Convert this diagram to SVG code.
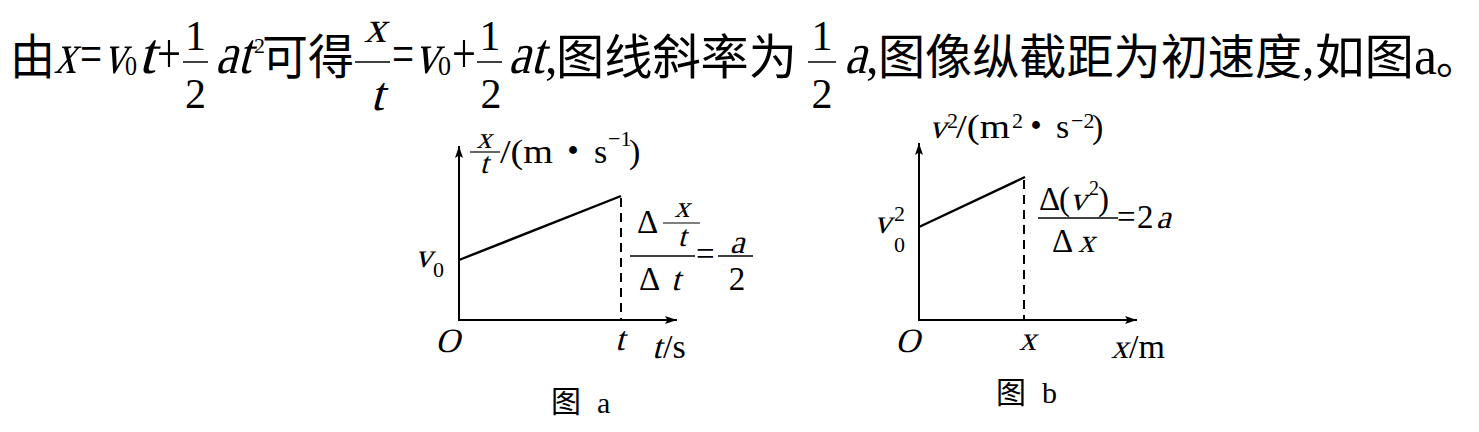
<svg xmlns="http://www.w3.org/2000/svg" width="1479" height="432" viewBox="0 0 1479 432">
<style>
.cjk{font-family:"Noto Sans CJK SC","Noto Sans",sans-serif;fill:#000}
.m{font-family:"Liberation Serif","Times New Roman",serif;fill:#000}
.ax{stroke:#000;stroke-width:2;fill:none}
.pl{stroke:#000;stroke-width:2.4;fill:none}
.ds{stroke:#000;stroke-width:2;fill:none;stroke-dasharray:9 6}
.fb{stroke:#000;stroke-width:1.5}
.fs{stroke:#000;stroke-width:1.2}
</style>
<defs>
<marker id="arr" markerUnits="userSpaceOnUse" markerWidth="12" markerHeight="8" viewBox="0 0 12 8" refX="12" refY="4" orient="auto">
<path d="M0,0 L12,4 L0,8 L2.5,4 Z" fill="#000"/>
</marker>
</defs>
<rect width="1479" height="432" fill="#fff"/>
<g id="title">
<text class="cjk" x="10" y="74" font-size="48" textLength="45" lengthAdjust="spacingAndGlyphs">由</text>
<text class="m" transform="translate(54,73) skewX(-15)" font-size="58" textLength="22" lengthAdjust="spacingAndGlyphs">x</text>
<text class="m" x="80" y="73" font-size="58" textLength="22" lengthAdjust="spacingAndGlyphs">=</text>
<text class="m" transform="translate(103,73) skewX(-15)" font-size="58" textLength="22" lengthAdjust="spacingAndGlyphs">v</text>
<text class="m" x="125" y="75" font-size="28" textLength="12" lengthAdjust="spacingAndGlyphs">0</text>
<text class="m" transform="translate(138,73) skewX(-15)" font-size="58" textLength="17" lengthAdjust="spacingAndGlyphs">t</text>
<text class="m" x="157" y="73" font-size="58" textLength="24" lengthAdjust="spacingAndGlyphs">+</text>
<line class="fb" x1="183" y1="62" x2="208" y2="62"/>
<text class="m" x="195.5" y="50" font-size="42" text-anchor="middle">1</text>
<text class="m" x="195.5" y="108" font-size="42" text-anchor="middle">2</text>
<text class="m" transform="translate(215,73) skewX(-15)" font-size="58" textLength="36" lengthAdjust="spacingAndGlyphs">at</text>
<text class="m" x="254" y="53" font-size="22">2</text>
<text class="cjk" x="262" y="74" font-size="48" textLength="92" lengthAdjust="spacingAndGlyphs">可得</text>
<line class="fb" x1="355" y1="62" x2="390" y2="62"/>
<text class="m" transform="translate(375,42) skewX(-15)" font-size="44" text-anchor="middle">x</text>
<text class="m" transform="translate(377,110) skewX(-15)" font-size="48" text-anchor="middle">t</text>
<text class="m" x="392" y="73" font-size="58" textLength="22" lengthAdjust="spacingAndGlyphs">=</text>
<text class="m" transform="translate(414,73) skewX(-15)" font-size="58" textLength="24" lengthAdjust="spacingAndGlyphs">v</text>
<text class="m" x="438" y="75" font-size="28" textLength="13" lengthAdjust="spacingAndGlyphs">0</text>
<text class="m" x="452" y="73" font-size="58" textLength="24" lengthAdjust="spacingAndGlyphs">+</text>
<line class="fb" x1="477" y1="62" x2="502" y2="62"/>
<text class="m" x="490" y="50" font-size="42" text-anchor="middle">1</text>
<text class="m" x="491" y="108" font-size="42" text-anchor="middle">2</text>
<text class="m" transform="translate(508,73) skewX(-15)" font-size="58" textLength="36" lengthAdjust="spacingAndGlyphs">at</text>
<text class="m" x="545" y="73" font-size="50">,</text>
<text class="cjk" x="556" y="74" font-size="48" textLength="241" lengthAdjust="spacingAndGlyphs">图线斜率为</text>
<line class="fb" x1="808" y1="62" x2="836" y2="62"/>
<text class="m" x="822" y="50" font-size="42" text-anchor="middle">1</text>
<text class="m" x="822" y="108" font-size="42" text-anchor="middle">2</text>
<text class="m" transform="translate(844,73) skewX(-15)" font-size="58" textLength="22" lengthAdjust="spacingAndGlyphs">a</text>
<text class="m" x="866" y="73" font-size="50">,</text>
<text class="cjk" x="878" y="74" font-size="48" textLength="424" lengthAdjust="spacingAndGlyphs">图像纵截距为初速度</text>
<text class="m" x="1302" y="73" font-size="50">,</text>
<text class="cjk" x="1315" y="74" font-size="48" textLength="99" lengthAdjust="spacingAndGlyphs">如图</text>
<text class="m" x="1414" y="74" font-size="54" textLength="23" lengthAdjust="spacingAndGlyphs">a</text>
<text class="cjk" x="1436" y="74" font-size="43">。</text>
</g>
<g id="connectors">
<line class="ax" x1="459" y1="320" x2="459" y2="146" marker-end="url(#arr)"/>
<line class="ax" x1="458" y1="320" x2="677" y2="320" marker-end="url(#arr)"/>
<line class="pl" x1="459" y1="260" x2="621" y2="196"/>
<line class="ds" x1="621" y1="198" x2="621" y2="320"/>
<line class="ax" x1="919" y1="320" x2="919" y2="143" marker-end="url(#arr)"/>
<line class="ax" x1="918" y1="320" x2="1137" y2="320" marker-end="url(#arr)"/>
<line class="pl" x1="919" y1="227" x2="1025" y2="177"/>
<line class="ds" x1="1024" y1="180" x2="1024" y2="320"/>
</g>
<g id="chart-a">
<line class="fs" x1="470" y1="152" x2="500" y2="152"/>
<text class="m" transform="translate(484,148) skewX(-15)" font-size="30" text-anchor="middle">x</text>
<text class="m" transform="translate(484,173) skewX(-15)" font-size="30" text-anchor="middle">t</text>
<text class="m" x="500" y="163" font-size="34" textLength="53" lengthAdjust="spacingAndGlyphs">/(m</text>
<text class="m" x="573" y="166" font-size="48" font-weight="bold" text-anchor="middle">·</text>
<text class="m" x="594" y="163" font-size="34">s</text>
<text class="m" x="608" y="146" font-size="22">−1</text>
<text class="m" x="629" y="163" font-size="34">)</text>
<text class="m" transform="translate(415,267) skewX(-15)" font-size="34">v</text>
<text class="m" x="433" y="277" font-size="22">0</text>
<text class="m" transform="translate(435,352) skewX(-15)" font-size="34">O</text>
<text class="m" transform="translate(615,350) skewX(-15)" font-size="34">t</text>
<text class="m" transform="translate(652,358) skewX(-15)" font-size="34">t</text>
<text class="m" x="663" y="358" font-size="34">/s</text>
<text class="m" x="637" y="233" font-size="33">Δ</text>
<line class="fs" x1="663" y1="223" x2="700" y2="223"/>
<text class="m" transform="translate(682,217) skewX(-15)" font-size="30" text-anchor="middle">x</text>
<text class="m" transform="translate(682,246) skewX(-15)" font-size="30" text-anchor="middle">t</text>
<line class="fb" x1="630" y1="256" x2="695" y2="256"/>
<text class="m" x="639" y="290" font-size="33">Δ</text>
<text class="m" transform="translate(671,290) skewX(-15)" font-size="33">t</text>
<text class="m" x="696" y="265" font-size="33">=</text>
<line class="fb" x1="718" y1="256" x2="753" y2="256"/>
<text class="m" transform="translate(737,253) skewX(-15)" font-size="33" text-anchor="middle">a</text>
<text class="m" x="737" y="290" font-size="33" text-anchor="middle">2</text>
<text class="cjk" x="551" y="412" font-size="30">图</text>
<text class="m" x="597" y="413" font-size="30">a</text>
</g>
<g id="chart-b">
<text class="m" transform="translate(929,138) skewX(-15)" font-size="34">v</text>
<text class="m" x="947" y="128" font-size="22">2</text>
<text class="m" x="956" y="138" font-size="34" textLength="54" lengthAdjust="spacingAndGlyphs">/(m</text>
<text class="m" x="1012" y="128" font-size="22">2</text>
<text class="m" x="1036" y="141" font-size="48" font-weight="bold" text-anchor="middle">·</text>
<text class="m" x="1056" y="138" font-size="34">s</text>
<text class="m" x="1071" y="128" font-size="22">−2</text>
<text class="m" x="1092" y="138" font-size="34">)</text>
<text class="m" transform="translate(874,233) skewX(-15)" font-size="34">v</text>
<text class="m" x="894" y="221" font-size="22">2</text>
<text class="m" x="894" y="252" font-size="22">0</text>
<text class="m" x="1039" y="210" font-size="33">Δ</text>
<text class="m" x="1059" y="210" font-size="33">(</text>
<text class="m" transform="translate(1070,210) skewX(-15)" font-size="33">v</text>
<text class="m" x="1089" y="195" font-size="20">2</text>
<text class="m" x="1098" y="210" font-size="33">)</text>
<line class="fb" x1="1038" y1="218" x2="1118" y2="218"/>
<text class="m" x="1117" y="228" font-size="33">=</text>
<text class="m" x="1137" y="228" font-size="33">2</text>
<text class="m" transform="translate(1156,228) skewX(-15)" font-size="33">a</text>
<text class="m" x="1052" y="252" font-size="33">Δ</text>
<text class="m" transform="translate(1078,252) skewX(-15)" font-size="33">x</text>
<text class="m" transform="translate(895,352) skewX(-15)" font-size="34">O</text>
<text class="m" transform="translate(1019,350) skewX(-15)" font-size="34">x</text>
<text class="m" transform="translate(1111,358) skewX(-15)" font-size="34">x</text>
<text class="m" x="1129" y="358" font-size="34">/m</text>
<text class="cjk" x="996" y="403" font-size="30">图</text>
<text class="m" x="1042" y="403" font-size="30">b</text>
</g>
</svg>
